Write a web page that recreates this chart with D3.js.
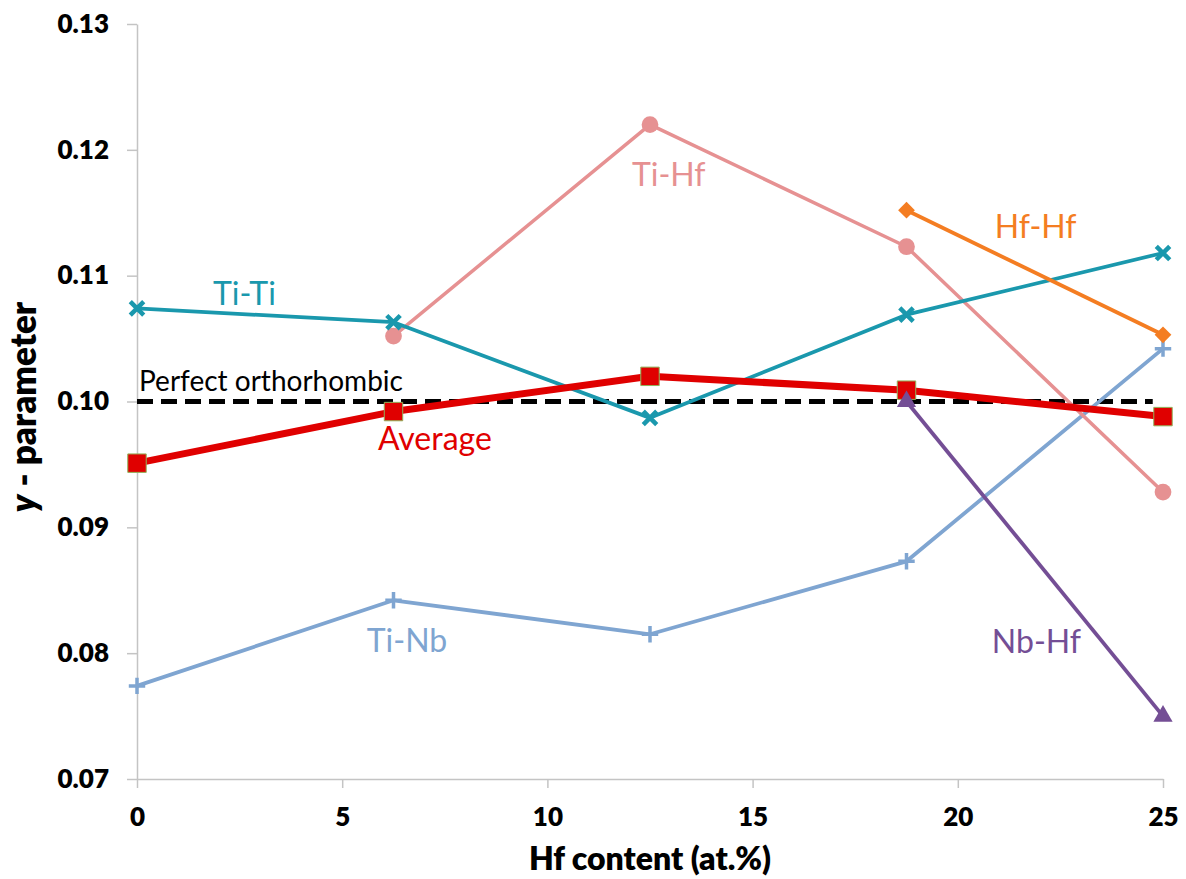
<!DOCTYPE html>
<html>
<head>
<meta charset="utf-8">
<script src="https://cdn.jsdelivr.net/npm/d3@7"></script>
<style>
    body { margin: 0; background: #fff; }
    text { font-family: Lato, "Open Sans", sans-serif; }
</style>
</head>
<body>
<div id="chart"></div>
<script>
// Hf content (at.%) for each composition
const hfContent = [0, 6.25, 12.5, 18.75, 25]

// y - parameter per bond type (null = no point)
const averageValues = [0.0951, 0.0992, 0.1020, 0.1009, 0.0988]
const tiTiValues = [0.1074, 0.1063, 0.0987, 0.1069, 0.1118]
const tiHfValues = [null, 0.1052, 0.1220, 0.1123, 0.0928]
const hfHfValues = [null, null, null, 0.1152, 0.1053]
const tiNbValues = [0.0774, 0.0842, 0.0815, 0.0873, 0.1042]
const nbHfValues = [null, null, null, 0.1000, 0.0750]

const perfectOrthorhombic = 0.10

const xTicks = [0, 5, 10, 15, 20, 25]
const yTicks = [0.07, 0.08, 0.09, 0.10, 0.11, 0.12, 0.13]

const seriesNames = ['Ti-Nb', 'Ti-Hf', 'Ti-Ti', 'Hf-Hf', 'Average', 'Nb-Hf']
const seriesValues = [tiNbValues, tiHfValues, tiTiValues, hfHfValues, averageValues, nbHfValues]

// label anchor (x, y in data units) for the in-plot annotations
const labelNames = ['Ti-Ti', 'Ti-Hf', 'Hf-Hf', 'Average', 'Ti-Nb', 'Nb-Hf', 'Perfect orthorhombic']
const labelX = [1.85, 12.06, 20.9, 5.87, 5.6, 20.83, 0.05]
const labelY = [0.10767, 0.11713, 0.11299, 0.09615, 0.08009, 0.08001, 0.10083]

const styles = {
    'Ti-Ti': { color: '#1a98ad', width: 3.8, symbol: 'times', size: 120 },
    'Ti-Hf': { color: '#e69192', width: 3.5, symbol: 'circle', size: 220 },
    'Hf-Hf': { color: '#f47d22', width: 3.8, symbol: 'diamond', size: 140 },
    'Ti-Nb': { color: '#7fa5d1', width: 3.8, symbol: 'plus', size: 90 },
    'Nb-Hf': { color: '#744e95', width: 3.8, symbol: 'triangle', size: 160 },
    'Average': { color: '#e00000', width: 7, symbol: 'square', size: 340 }
}

const margin = { top: 24, right: 23, bottom: 100, left: 137 },
    fullWidth = 1186, fullHeight = 879,
    width = fullWidth - margin.left - margin.right,
    height = fullHeight - margin.top - margin.bottom

const svg = d3.select('#chart')
    .append('svg')
    .attr('width', fullWidth)
    .attr('height', fullHeight)

const plot = svg.append('g')
    .attr('transform', `translate(${margin.left},${margin.top})`)

const x = d3.scaleLinear().domain([0, 25]).range([0, width])
const y = d3.scaleLinear().domain([0.07, 0.13]).range([height, 0])

const axisColor = '#c4c4c4'

// y axis
const yAxis = plot.append('g')
    .call(d3.axisLeft(y).tickValues(yTicks).tickSize(10).tickSizeOuter(0).tickPadding(18).tickFormat(d3.format('.2f')))
yAxis.selectAll('path, line').attr('stroke', axisColor).attr('stroke-width', 1.5)
yAxis.selectAll('text')
    .attr('fill', '#000')
    .style('font-size', '26px')
    .style('font-weight', 800)

// x axis
const xAxis = plot.append('g')
    .attr('transform', `translate(0,${height})`)
    .call(d3.axisBottom(x).tickValues(xTicks).tickSize(9).tickSizeOuter(0).tickPadding(20))
xAxis.selectAll('path, line').attr('stroke', axisColor).attr('stroke-width', 1.5)
xAxis.selectAll('text')
    .attr('fill', '#000')
    .style('font-size', '26px')
    .style('font-weight', 800)

// axis titles
svg.append('text')
    .attr('x', margin.left + x(12.5))
    .attr('y', 870)
    .attr('text-anchor', 'middle')
    .style('font-size', '32px')
    .style('font-weight', 800)
    .text('Hf content (at.%)')

const yTitle = svg.append('text')
    .attr('transform', 'translate(36,407) rotate(-90)')
    .attr('text-anchor', 'middle')
    .style('font-size', '35px')
    .style('font-weight', 800)
yTitle.append('tspan').style('font-style', 'italic').text('y')
yTitle.append('tspan').text(' - parameter')

// perfect orthorhombic reference
plot.append('line')
    .attr('x1', x(0))
    .attr('x2', x(24.75))
    .attr('y1', y(perfectOrthorhombic))
    .attr('y2', y(perfectOrthorhombic))
    .attr('stroke', '#000')
    .attr('stroke-width', 5)
    .attr('stroke-dasharray', '16 8')

const symbolTypes = {
    circle: d3.symbolCircle,
    diamond: d3.symbolSquare,
    triangle: d3.symbolTriangle,
    square: d3.symbolSquare,
    times: d3.symbolTimes || d3.symbolCross,
    plus: d3.symbolPlus || d3.symbolCross
}

const line = d3.line()
    .defined(d => d.value !== null)
    .x(d => x(d.x))
    .y(d => y(d.value))

seriesNames.forEach((name, i) => {
    const style = styles[name]
    const points = hfContent.map((h, j) => ({ x: h, value: seriesValues[i][j] }))
    const g = plot.append('g').attr('class', 'series')

    g.append('path')
        .datum(points)
        .attr('d', line)
        .attr('fill', 'none')
        .attr('stroke', style.color)
        .attr('stroke-width', style.width)
        .attr('stroke-linejoin', 'round')

    const stroked = style.symbol === 'times' || style.symbol === 'plus'
    const rotate = style.symbol === 'diamond' ? ' rotate(45)' : ''
    g.selectAll('path.marker')
        .data(points.filter(d => d.value !== null))
        .join('path')
        .attr('class', 'marker')
        .attr('transform', d => `translate(${x(d.x)},${y(d.value)})${rotate}`)
        .attr('d', d3.symbol(symbolTypes[style.symbol], style.size))
        .attr('fill', stroked ? 'none' : style.color)
        .attr('stroke', stroked ? style.color : (name === 'Average' ? '#8fb35a' : 'none'))
        .attr('stroke-width', stroked ? (style.symbol === 'times' ? 4.5 : 3.5) : 1)
})

// in-plot labels
labelNames.forEach((name, i) => {
    const isRef = name === 'Perfect orthorhombic'
    plot.append('text')
        .attr('x', x(labelX[i]))
        .attr('y', y(labelY[i]))
        .attr('fill', isRef ? '#000' : styles[name].color)
        .style('font-size', isRef ? '28px' : '32px')
        .text(name)
})
</script>
</body>
</html>
